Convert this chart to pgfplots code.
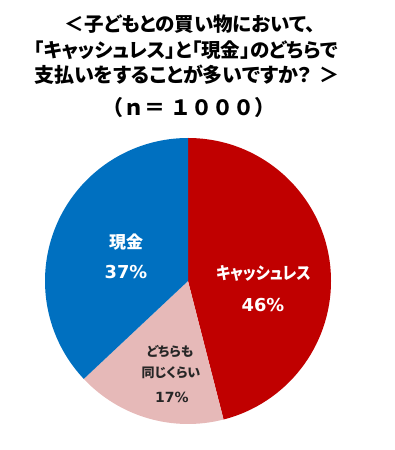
\documentclass[border=0pt]{standalone}
\usepackage{pgfplots}
\pgfplotsset{compat=1.18}
\usepackage{pgfplotstable}
\usepackage{fontspec}
\setmainfont{Noto Sans CJK JP}[RawFeature=+palt]
\newfontfamily\jpfull{Noto Sans CJK JP}
\newfontfamily\lat{DejaVu Sans}
\definecolor{cRed}{HTML}{C00000}
\definecolor{cPink}{HTML}{E6B9B8}
\definecolor{cBlue}{HTML}{0070C0}
\definecolor{cText}{HTML}{262626}
\pgfplotstableread{
key value
cashless 46
same 17
cash 37
}\piedata
\begin{document}
\begin{tikzpicture}
\pgfplotstablegetelem{0}{value}\of\piedata \pgfmathsetmacro\vA{\pgfplotsretval}
\pgfplotstablegetelem{1}{value}\of\piedata \pgfmathsetmacro\vB{\pgfplotsretval}
\pgfplotstablegetelem{2}{value}\of\piedata \pgfmathsetmacro\vC{\pgfplotsretval}
\pgfmathsetmacro\aA{90-3.6*\vA}
\pgfmathsetmacro\aB{\aA-3.6*\vB}
\pgfmathsetmacro\aC{\aB-3.6*\vC}
\begin{axis}[
  anchor=origin, at={(0,0)},
  scale only axis, width=394pt, height=450pt,
  xmin=0, xmax=394, ymin=0, ymax=450,
  hide axis, clip=false]
\fill[cRed] (axis cs:188,169) -- ++(90:143pt) arc[start angle=90, end angle=\aA, radius=143pt] -- cycle;
\fill[cPink] (axis cs:188,169) -- ++(\aA:143pt) arc[start angle=\aA, end angle=\aB, radius=143pt] -- cycle;
\fill[cBlue] (axis cs:188,169) -- ++(\aB:143pt) arc[start angle=\aB, end angle=\aC, radius=143pt] -- cycle;
% title
\node[font=\fontsize{19.5}{22}\selectfont\bfseries] at (axis cs:190,426) {＜子どもとの買い物において、};
\node[font=\fontsize{19.5}{22}\selectfont\bfseries] at (axis cs:186,400) {「キャッシュレス」と「現金」のどちらで};
\node[font=\fontsize{20}{22}\selectfont\bfseries] at (axis cs:187,375) {支払いをすることが多いですか？\hspace{8pt}＞};
\node[font=\fontsize{21}{24}\selectfont\bfseries\jpfull] at (axis cs:189,342) {（ｎ＝ １０００）};
% labels
\node[white, font=\fontsize{17}{19}\selectfont\bfseries] at (axis cs:126,208) {現金};
\node[white, font=\fontsize{17.8}{20}\selectfont\bfseries\lat] at (axis cs:126,178) {37\%};
\node[white, font=\fontsize{17}{19}\selectfont\bfseries, xscale=0.89] at (axis cs:263.5,177) {キャッシュレス};
\node[white, font=\fontsize{17.8}{20}\selectfont\bfseries\lat] at (axis cs:263,145) {46\%};
\node[cText, font=\fontsize{13}{15}\selectfont\bfseries] at (axis cs:170,98) {どちらも};
\node[cText, font=\fontsize{13}{15}\selectfont\bfseries] at (axis cs:171,77) {同じくらい};
\node[cText, font=\fontsize{14}{16}\selectfont\bfseries\lat] at (axis cs:172,53) {17\%};
\end{axis}
\pgfresetboundingbox
\useasboundingbox (0,0) rectangle (394pt,450pt);
\end{tikzpicture}
\end{document}
